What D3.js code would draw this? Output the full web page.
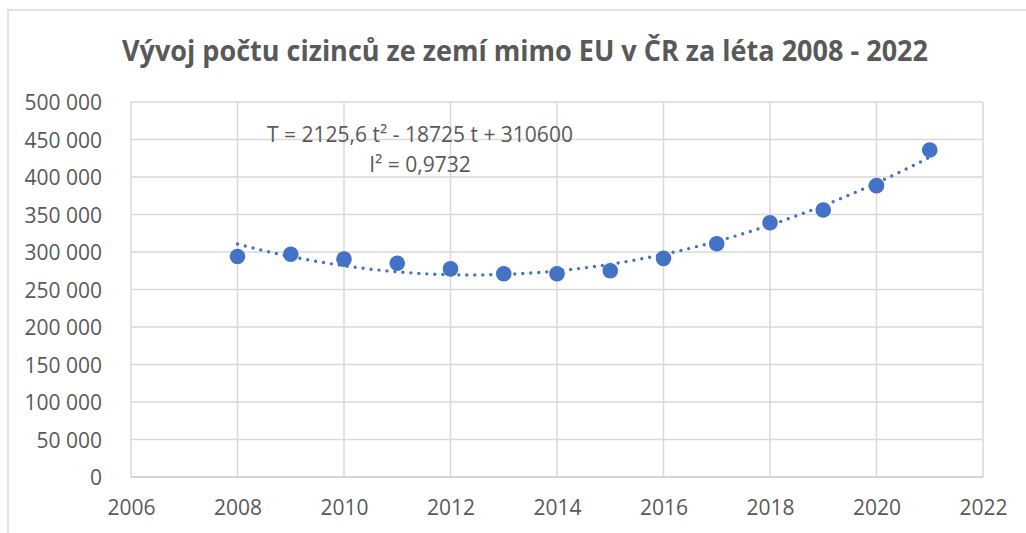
<!DOCTYPE html>
<html>
<head>
<meta charset="utf-8">
<script src="https://cdn.jsdelivr.net/npm/d3@7"></script>
<style>
  html, body { margin: 0; padding: 0; background: #fff; }
  svg { display: block; }
  text { font-family: "Open Sans", "DejaVu Sans", sans-serif; fill: #595959; }
</style>
</head>
<body>
<svg id="chart" width="1026" height="533"></svg>
<script>
// data
var years = [2008, 2009, 2010, 2011, 2012, 2013, 2014, 2015, 2016, 2017, 2018, 2019, 2020, 2021];
var counts = [294000, 297000, 290500, 285000, 277500, 271000, 271000, 275000, 291500, 311000, 339000, 356000, 388500, 436000];
var xTicks = [2006, 2008, 2010, 2012, 2014, 2016, 2018, 2020, 2022];
var yTicks = [0, 50000, 100000, 150000, 200000, 250000, 300000, 350000, 400000, 450000, 500000];
// trend coefficients as printed on the chart (t = year - 2008)
var trendCoef = [2125.6, -18725, 310600];
var titleText = "Vývoj počtu cizinců ze zemí mimo EU v ČR za léta 2008 - 2022";
var eqLines = ["T = 2125,6 t² - 18725 t + 310600", "I² = 0,9732"];

var svg = d3.select("#chart");
var W = 1026, H = 533;
var margin = {left: 131, right: W - 983, top: 102, bottom: H - 477};
var blue = "#4472C4";
var grid = "#d9d9d9";

// outer frame
svg.append("rect")
    .attr("x", 8).attr("y", 10)
    .attr("width", W + 10).attr("height", H + 10)
    .attr("fill", "#fff")
    .attr("stroke", "#d9d9d9")
    .attr("stroke-width", 1.5);

var x = d3.scaleLinear().domain([2006, 2022]).range([margin.left, W - margin.right]);
var y = d3.scaleLinear().domain([0, 500000]).range([H - margin.bottom, margin.top]);

var fmt = d3.formatLocale({decimal: ",", thousands: " ", grouping: [3], currency: ["", ""]}).format(",d");

// gridlines
svg.append("g").selectAll("line.h")
    .data(yTicks)
    .join("line")
    .attr("x1", x(2006)).attr("x2", x(2022))
    .attr("y1", d => y(d)).attr("y2", d => y(d))
    .attr("stroke", grid).attr("stroke-width", 1.5);

svg.append("g").selectAll("line.v")
    .data(xTicks)
    .join("line")
    .attr("x1", d => x(d)).attr("x2", d => x(d))
    .attr("y1", y(0)).attr("y2", y(500000))
    .attr("stroke", grid).attr("stroke-width", 1.5);

// axes (labels only)
var yAxis = svg.append("g")
    .attr("transform", "translate(" + (margin.left - 29) + ",0)")
    .call(d3.axisLeft(y).tickValues(yTicks).tickSize(0).tickFormat(fmt));
yAxis.select(".domain").remove();
yAxis.selectAll("text")
    .attr("x", 0).attr("dy", "0.36em")
    .style("font-size", "21px")
    .attr("fill", "#595959");

var xAxis = svg.append("g")
    .attr("transform", "translate(0," + (H - margin.bottom) + ")")
    .call(d3.axisBottom(x).tickValues(xTicks).tickSize(0).tickFormat(d3.format("d")));
xAxis.select(".domain").remove();
xAxis.selectAll("text")
    .attr("y", 38).attr("dy", 0)
    .style("font-size", "21px")
    .attr("fill", "#595959");

// bottom axis line
svg.append("line")
    .attr("x1", x(2006)).attr("x2", x(2022))
    .attr("y1", y(0)).attr("y2", y(0))
    .attr("stroke", "#d0d0d0").attr("stroke-width", 1.5);

// trendline
var trendYears = d3.range(0, 201).map(i => years[0] + i * (years[years.length - 1] - years[0]) / 200);
var trend = d3.line()
    .x(d => x(d))
    .y(d => {
        var t = d - years[0];
        return y(trendCoef[0] * t * t + trendCoef[1] * t + trendCoef[2]);
    });

svg.append("path")
    .datum(trendYears)
    .attr("d", trend)
    .attr("fill", "none")
    .attr("stroke", blue)
    .attr("stroke-width", 3.4)
    .attr("stroke-linecap", "round")
    .attr("stroke-dasharray", "0 8");

// points
svg.append("g").selectAll("circle")
    .data(years)
    .join("circle")
    .attr("cx", d => x(d))
    .attr("cy", (d, i) => y(counts[i]))
    .attr("r", 7.8)
    .attr("fill", blue);

// equation label
svg.append("g").selectAll("text")
    .data(eqLines)
    .join("text")
    .attr("x", 420)
    .attr("y", (d, i) => 142 + i * 30)
    .attr("text-anchor", "middle")
    .style("font-size", "21px")
    .text(d => d);

// title
svg.append("text")
    .attr("x", 525)
    .attr("y", 61)
    .attr("text-anchor", "middle")
    .attr("textLength", 806)
    .attr("lengthAdjust", "spacingAndGlyphs")
    .style("font-size", "28px")
    .style("font-weight", "bold")
    .text(titleText);
</script>
</body>
</html>
